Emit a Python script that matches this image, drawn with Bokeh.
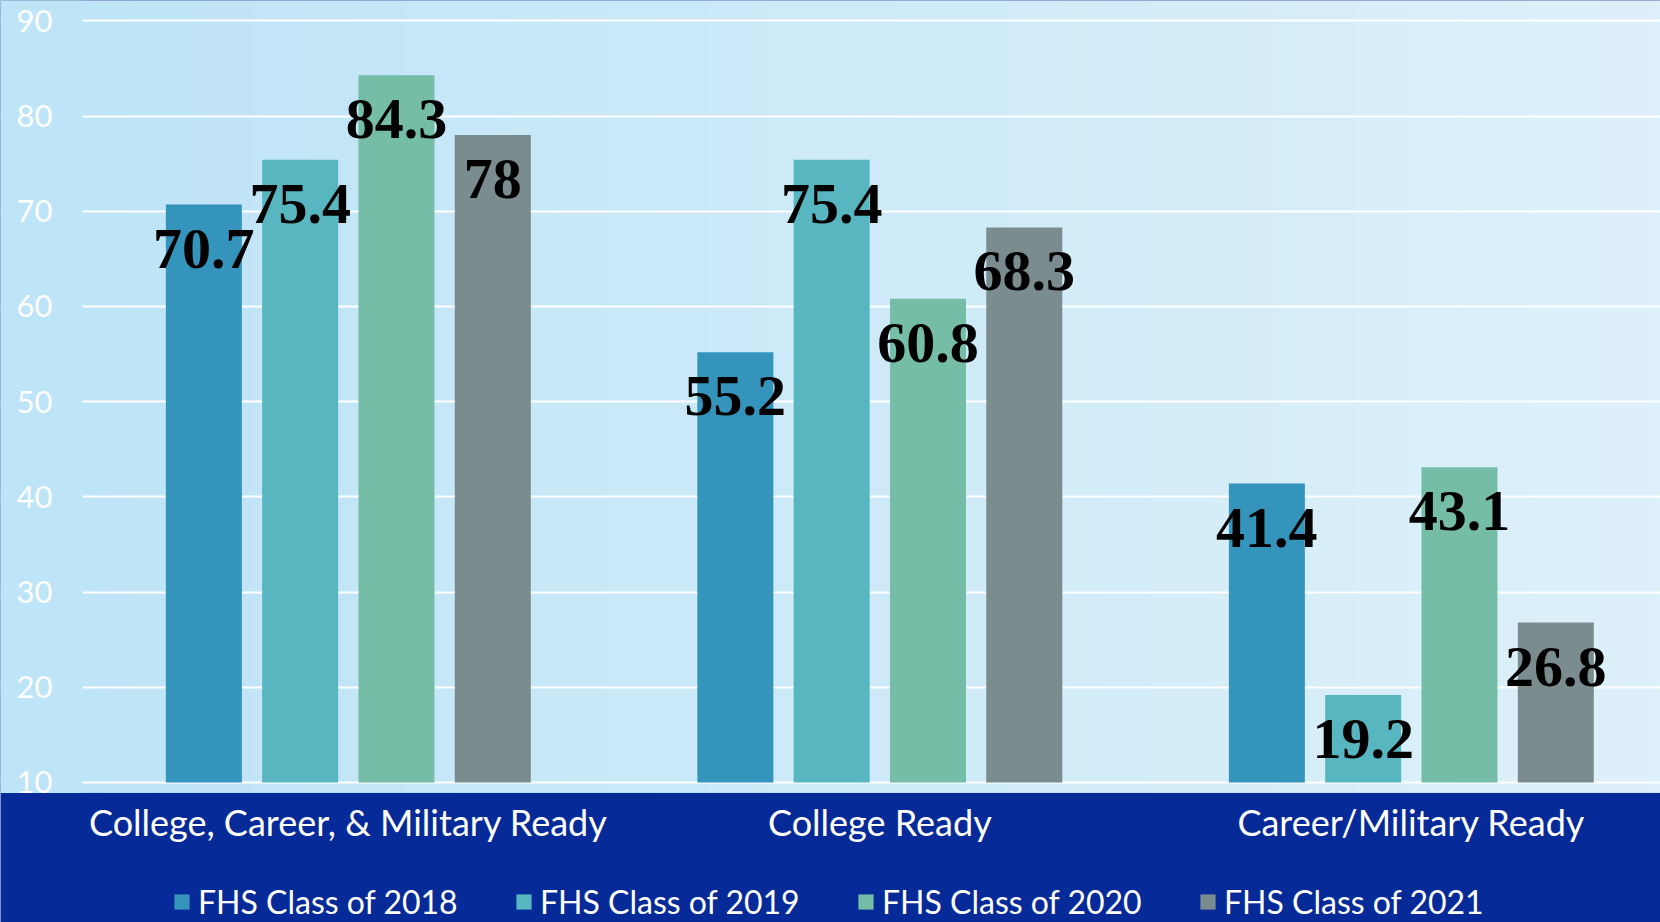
import numpy as np
from bokeh.plotting import figure
from bokeh.models import Range1d, FixedTicker, Legend, LegendItem, ColumnDataSource, BoxAnnotation
from bokeh.core.properties import value
from bokeh.embed import file_html
from bokeh.resources import INLINE

# ---- data ----
categories = ["College, Career, & Military Ready", "College Ready", "Career/Military Ready"]
series_names = ["FHS Class of 2018", "FHS Class of 2019", "FHS Class of 2020", "FHS Class of 2021"]
class_2018 = [70.7, 55.2, 41.4]
class_2019 = [75.4, 75.4, 19.2]
class_2020 = [84.3, 60.8, 43.1]
class_2021 = [78, 68.3, 26.8]
y_ticks = [10, 20, 30, 40, 50, 60, 70, 80, 90]

# ---- style ----
series_values = [class_2018, class_2019, class_2020, class_2021]
colors = ["#3594bb", "#58b6c0", "#75bda7", "#7a8c8e"]
band_color = "#062a97"
left_bg = (189, 228, 247)
right_bg = (222, 241, 250)

W, H = 1660, 922
x_start, x_end = -0.6544, 2.4688      # frame spans the whole canvas
y_start, y_end = -4.71, 92.14
axis_x = -0.5                          # where the value axis / gridlines begin
band_top = 8.9                         # top of the dark category band
bar_pitch = 0.1812
bar_width = 0.143
base = 10

p = figure(width=W, height=H, output_backend="svg", toolbar_location=None,
           x_range=Range1d(x_start, x_end), y_range=Range1d(y_start, y_end),
           min_border=0, border_fill_color=band_color,
           background_fill_color=band_color, outline_line_color=None)

# light background with horizontal gradient (above the band)
n = 256
t = np.linspace(0, 1, n)
img = np.empty((1, n), dtype=np.uint32)
view = img.view(dtype=np.uint8).reshape((1, n, 4))
for k in range(3):
    view[0, :, k] = (left_bg[k] + (right_bg[k] - left_bg[k]) * t).astype(np.uint8)
view[0, :, 3] = 255
p.image_rgba(image=[img], x=x_start, y=band_top, dw=x_end - x_start, dh=y_end - band_top, level="image")

# cover gridlines left of the value axis
p.add_layout(BoxAnnotation(right=axis_x, bottom=band_top, fill_color="#bde4f7", fill_alpha=1,
                           line_color=None, level="glyph"))

# bars + value labels
xs = list(range(len(categories)))
renderers = []
for i, (vals, col) in enumerate(zip(series_values, colors)):
    off = (i - (len(series_values) - 1) / 2) * bar_pitch
    src = ColumnDataSource(dict(x=[c + off for c in xs], top=vals,
                                label=[f"{v:g}" for v in vals]))
    r = p.vbar(x="x", top="top", bottom=base, width=bar_width, source=src,
               fill_color=col, line_color=None)
    renderers.append(r)
    p.text(x="x", y="top", text="label", source=src,
           text_font=value("Liberation Serif"), text_font_style="bold",
           text_font_size="58px", text_color="black",
           text_align="center", text_baseline="alphabetic", y_offset=44)

# grid
p.xgrid.visible = False
p.ygrid.ticker = FixedTicker(ticks=y_ticks)
p.ygrid.grid_line_color = "white"
p.ygrid.grid_line_width = 2

# y axis (inside the canvas, fixed at the start of the gridlines)
ya = p.yaxis[0]
ya.fixed_location = axis_x
ya.ticker = FixedTicker(ticks=y_ticks)
ya.major_label_text_font = "Lato"
ya.major_label_text_font_size = "31px"
ya.major_label_text_color = "white"
ya.axis_line_color = None
ya.major_tick_line_color = None
ya.minor_tick_line_color = None
ya.major_tick_out = 0
ya.major_tick_in = 0
ya.minor_tick_out = 0
ya.minor_tick_in = 0
ya.major_label_standoff = 30

# x axis (fixed on the top edge of the dark band)
xa = p.xaxis[0]
xa.fixed_location = band_top
xa.ticker = FixedTicker(ticks=xs)
xa.major_label_overrides = {i: c for i, c in enumerate(categories)}
xa.major_label_text_font = "Lato"
xa.major_label_text_font_size = "36px"
xa.major_label_text_color = "white"
xa.axis_line_color = None
xa.major_tick_line_color = None
xa.minor_tick_line_color = None
xa.major_tick_out = 0
xa.major_tick_in = 0
xa.minor_tick_out = 0
xa.minor_tick_in = 0
xa.major_label_standoff = 7

legend = Legend(items=[LegendItem(label=nm, renderers=[r]) for nm, r in zip(series_names, renderers)],
                orientation="horizontal", location=(172, 1),
                background_fill_alpha=0, border_line_color=None,
                label_text_font="Lato", label_text_font_size="32px", label_text_color="white",
                glyph_width=19, glyph_height=19, label_standoff=7, spacing=46,
                label_width=270, padding=0, margin=0)
p.add_layout(legend)

html = file_html(p, INLINE)
html = html.replace("<head>", "<head><style>html,body{margin:0;padding:0;overflow:hidden;}</style>", 1)
open("out.html", "w").write(html)
